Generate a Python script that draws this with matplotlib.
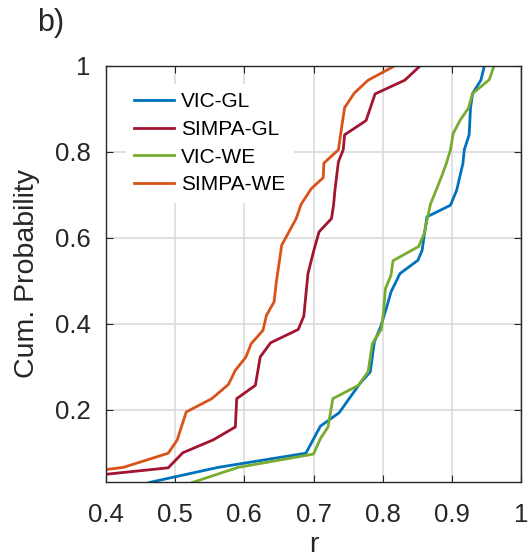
import matplotlib
matplotlib.use("Agg")
import matplotlib.pyplot as plt

plt.rcParams['font.family'] = ['Liberation Sans', 'DejaVu Sans']

# traced cumulative distributions of r
vic_gl_r = [0.463, 0.562, 0.689, 0.710, 0.737, 0.767, 0.782, 0.788, 0.797, 0.806, 0.812,
            0.825, 0.851, 0.857, 0.864, 0.898, 0.907, 0.916, 0.918, 0.925, 0.927, 0.930,
            0.942, 0.947]
vic_gl_p = [0.031, 0.066, 0.099, 0.162, 0.193, 0.261, 0.288, 0.358, 0.393, 0.440, 0.474,
            0.517, 0.548, 0.571, 0.649, 0.676, 0.711, 0.773, 0.805, 0.840, 0.902, 0.936,
            0.967, 1.0]

simpa_gl_r = [0.400, 0.490, 0.511, 0.555, 0.587, 0.589, 0.616, 0.623, 0.638, 0.678, 0.686,
              0.688, 0.692, 0.700, 0.708, 0.726, 0.729, 0.731, 0.736, 0.743, 0.745, 0.776,
              0.789, 0.832, 0.854]
simpa_gl_p = [0.050, 0.065, 0.100, 0.130, 0.160, 0.226, 0.257, 0.323, 0.356, 0.387, 0.418,
              0.451, 0.517, 0.568, 0.614, 0.645, 0.676, 0.711, 0.777, 0.805, 0.840, 0.873,
              0.935, 0.967, 1.0]

vic_we_r = [0.525, 0.591, 0.700, 0.710, 0.721, 0.728, 0.765, 0.779, 0.785, 0.798, 0.801,
            0.804, 0.812, 0.815, 0.852, 0.860, 0.869, 0.885, 0.892, 0.898, 0.902, 0.912,
            0.924, 0.930, 0.954, 0.961]
vic_we_p = [0.031, 0.066, 0.097, 0.133, 0.160, 0.226, 0.257, 0.289, 0.354, 0.387, 0.424,
            0.482, 0.513, 0.547, 0.580, 0.610, 0.678, 0.742, 0.773, 0.805, 0.843, 0.874,
            0.902, 0.936, 0.968, 1.0]

simpa_we_r = [0.400, 0.425, 0.490, 0.503, 0.516, 0.553, 0.577, 0.587, 0.602, 0.610, 0.627,
              0.632, 0.643, 0.646, 0.654, 0.675, 0.682, 0.697, 0.714, 0.715, 0.736, 0.740,
              0.745, 0.759, 0.779, 0.817]
simpa_we_p = [0.061, 0.066, 0.099, 0.130, 0.195, 0.226, 0.259, 0.292, 0.322, 0.354, 0.385,
              0.420, 0.451, 0.494, 0.583, 0.645, 0.678, 0.715, 0.740, 0.774, 0.805, 0.850,
              0.903, 0.937, 0.967, 1.0]

fig = plt.figure(figsize=(5.28, 5.57), dpi=100)
ax = fig.add_axes([106/528, 1-482/557, 415/528, 416/557])

lw = 2.0
ax.plot(vic_gl_r, vic_gl_p, color='#0072BD', lw=lw, label='VIC-GL')
ax.plot(simpa_gl_r, simpa_gl_p, color='#A2142F', lw=lw, label='SIMPA-GL')
ax.plot(vic_we_r, vic_we_p, color='#77AC30', lw=lw, label='VIC-WE')
ax.plot(simpa_we_r, simpa_we_p, color='#D95319', lw=lw, label='SIMPA-WE')

ax.set_xlim(0.4, 1.0)
ax.set_ylim(0.032, 1.0)
ax.set_xticks([0.4, 0.5, 0.6, 0.7, 0.8, 0.9, 1.0])
ax.set_xticklabels(['0.4', '0.5', '0.6', '0.7', '0.8', '0.9', '1'])
ax.set_yticks([0.2, 0.4, 0.6, 0.8, 1.0])
ax.set_yticklabels(['0.2', '0.4', '0.6', '0.8', '1'])
ax.grid(True, color='#dcdcdc', lw=1.2)
ax.set_axisbelow(True)
ax.tick_params(direction='in', top=True, right=True, labelsize=18.5, colors='#262626',
               length=5)
ax.tick_params(axis='x', pad=15)
ax.tick_params(axis='y', pad=11)
for s in ax.spines.values():
    s.set_color('#262626')
    s.set_linewidth(1.0)

ax.set_xlabel('r', fontsize=20.5, color='#262626', labelpad=4)
ax.set_ylabel('Cum. Probability', fontsize=20.5, color='#262626', labelpad=11)

leg = ax.legend(loc='upper left', bbox_to_anchor=(0.048, 0.957), fontsize=15,
                frameon=True, fancybox=False, handlelength=1.9, handletextpad=0.34,
                labelspacing=0.42, borderaxespad=0)
leg.get_frame().set_edgecolor('none')
leg.get_frame().set_facecolor('white')
leg.get_frame().set_alpha(1.0)

fig.text(37/528, 1-23/557, 'b)', fontsize=22, color='#262626', va='center', ha='left')

fig.savefig('out.png', dpi=100)
